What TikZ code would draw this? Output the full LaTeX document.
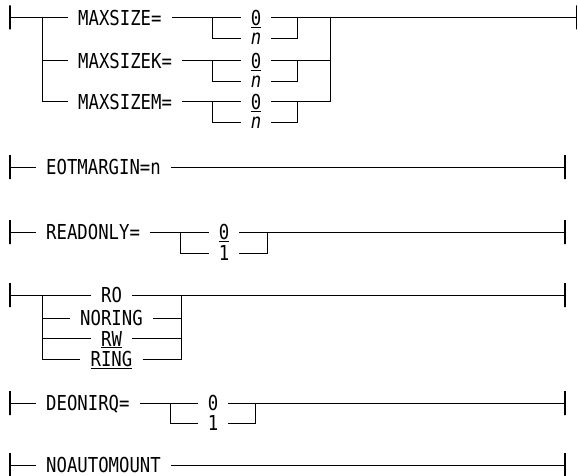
\documentclass[tikz,border=0pt]{standalone}
\usepackage{fontspec}
\newfontfamily\synfont{DejaVu Sans Mono}[ItalicFont={DejaVu Sans Mono Oblique}, FakeStretch=0.84]
\tikzset{
  kw/.style={font=\synfont\fontsize{20.6}{24}\selectfont, inner xsep=10pt, inner ysep=0pt, text depth=0pt},
  rail/.style={line width=1pt},
  bar/.style={draw, line width=1.6pt, shape=rectangle, inner sep=0pt, minimum width=0pt, minimum height=24pt},
}
\begin{document}
\begin{tikzpicture}[x=1pt,y=-1pt]
\useasboundingbox (0,0) rectangle (578,476);

\node[bar] (s1) at (10,17.5) {};
\node[bar] (e1) at (576.5,17.5) {};
\coordinate (j1) at (42.5,17.5);
\foreach \lab/\y [count=\i] in {MAXSIZE=/17.5, MAXSIZEK=/61, MAXSIZEM=/102} {
  \node[kw, anchor=west] (m\i) at (68,\y) {\lab};
  \node[kw] (z\i) at (256,\y) {\underline{0}};
  \node[kw] (n\i) at (256,\y+21) {\textit{n}};
  \coordinate (b\i) at (212,\y);
  \coordinate (c\i) at (297,\y);
  \coordinate (g\i) at (330,\y);
  \draw[rail] (m\i) -- (z\i) -- (g\i) (b\i) |- (n\i) -| (c\i);
}
\draw[rail] (s1) -- (m1) (z1) -- (e1);
\draw[rail] (j1) |- (m3) (j1 |- m2) -- (m2);
\draw[rail] (g1) -- (g3);

\node[bar] (s2) at (10,167) {};
\node[kw, anchor=west] (eot) at (36,167) {EOTMARGIN=n};
\node[bar] (e2) at (565,167) {};
\draw[rail] (s2) -- (eot) -- (e2);

\node[bar] (s3) at (10,232) {};
\node[kw, anchor=west] (rdo) at (36,232) {READONLY=};
\node[kw] (rdo0) at (224,232) {\underline{0}};
\node[kw] (rdo1) at (224,253) {1};
\coordinate (rdob) at (180,232);
\coordinate (rdoc) at (267,232);
\node[bar] (e3) at (565,232) {};
\draw[rail] (s3) -- (rdo) -- (rdo0) -- (e3) (rdob) |- (rdo1) -| (rdoc);

\node[bar] (s4) at (10,295) {};
\node[kw] (o1) at (111.5,295) {RO};
\node[kw] (o2) at (111.5,318) {NORING};
\node[kw] (o3) at (111.5,338.5) {\underline{RW}};
\node[kw] (o4) at (111.5,359) {\underline{RING}};
\coordinate (ob) at (42.5,295);
\coordinate (oc) at (181,295);
\node[bar] (e4) at (565,295) {};
\draw[rail] (s4) -- (o1) -- (e4);
\foreach \k in {2,3,4} \draw[rail] (ob) |- (o\k) -| (oc);

\node[bar] (s5) at (10,403) {};
\node[kw, anchor=west] (dq) at (36,403) {DEONIRQ=};
\node[kw] (dq0) at (213,403) {0};
\node[kw] (dq1) at (213,423) {1};
\coordinate (dqb) at (170,403);
\coordinate (dqc) at (255.5,403);
\node[bar] (e5) at (565,403) {};
\draw[rail] (s5) -- (dq) -- (dq0) -- (e5) (dqb) |- (dq1) -| (dqc);

\node[bar] (s6) at (10,465) {};
\node[kw, anchor=west] (na) at (36,465) {NOAUTOMOUNT};
\node[bar] (e6) at (565,465) {};
\draw[rail] (s6) -- (na) -- (e6);
\end{tikzpicture}
\end{document}
